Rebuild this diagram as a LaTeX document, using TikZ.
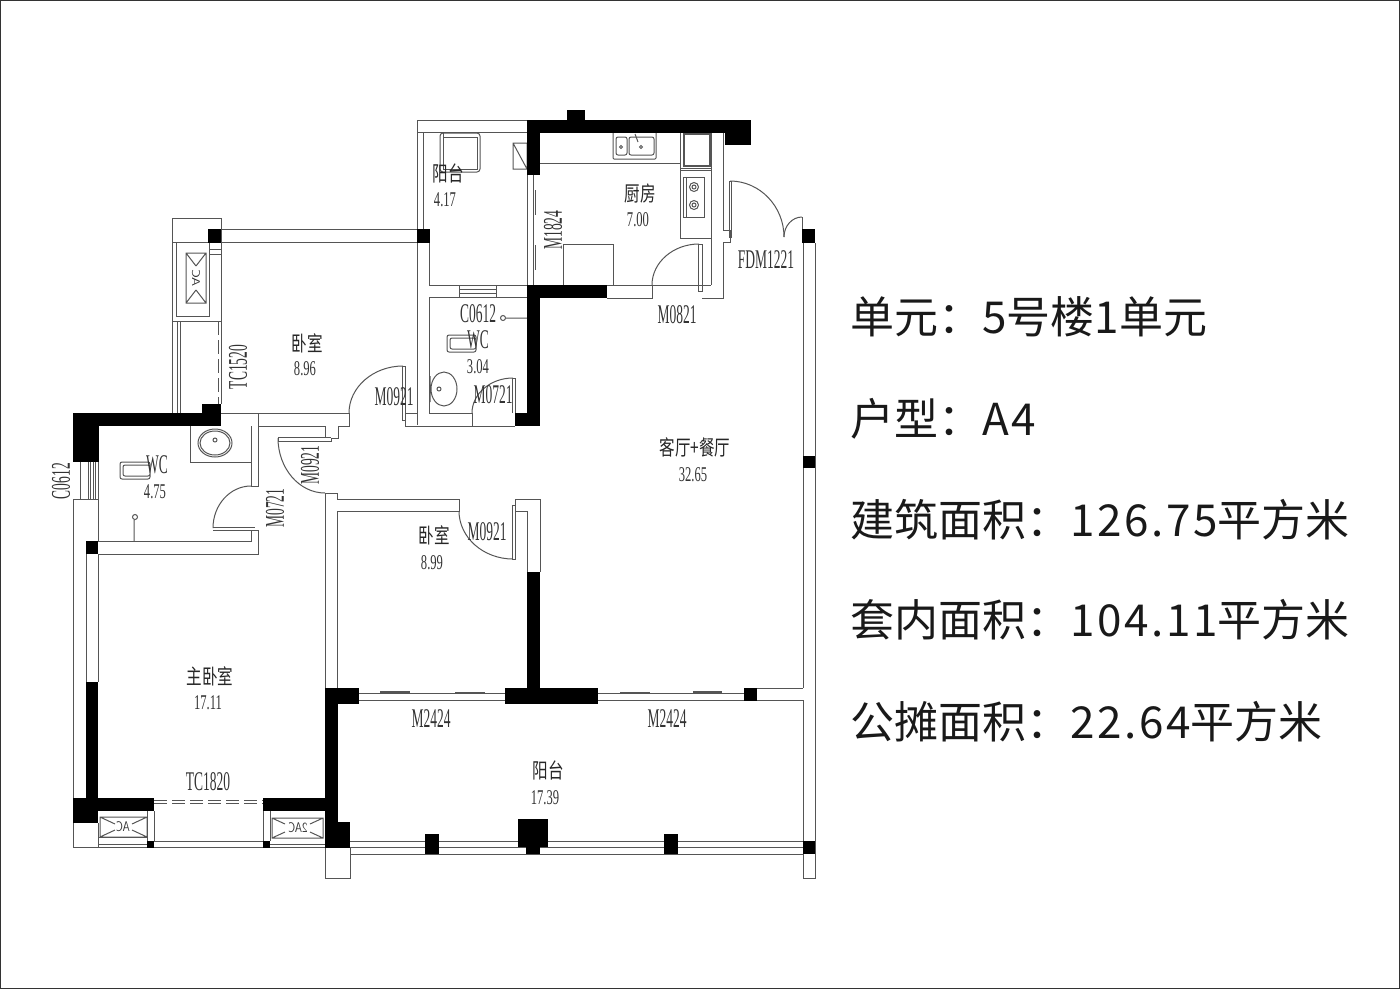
\documentclass[tikz,border=0pt]{standalone}
\usepackage{fontspec}
\setmainfont{Liberation Serif}
\newfontfamily\cjk{Noto Sans CJK SC}
\newfontfamily\cjknum[LetterSpace=6]{Noto Sans CJK SC}
\usepackage{tikz}
\definecolor{linegray}{HTML}{555555}
\tikzstyle{cadline}=[draw=linegray,line width=1pt]
\tikzstyle{pillar}=[fill=black,draw=none]
\tikzstyle{doorlabel}=[inner sep=0pt,xscale=.5,transform shape,font=\fontsize{27}{27}\selectfont,text=black!80]
\tikzstyle{doorvert}=[inner sep=0pt,rotate=90,xscale=.5,transform shape,font=\fontsize{27}{27}\selectfont,text=black!80]
\tikzstyle{arealabel}=[inner sep=0pt,xscale=.6,transform shape,font=\fontsize{21}{21}\selectfont,text=black!80]
\tikzstyle{roomlabel}=[inner sep=0pt,xscale=.74,transform shape,font=\cjk\fontsize{21}{21}\selectfont,text=black!85]
\tikzstyle{aclabel}=[inner sep=0pt,xscale=-.8,transform shape,font=\sffamily\fontsize{14}{14}\selectfont,text=black!80]
\tikzstyle{infoline}=[inner sep=0pt,anchor=base west,font=\cjk\fontsize{44}{44}\selectfont,text=black!90]
\newcommand{\doorarc}[4]{\draw[cadline] (#1,#2) .. controls (#1,{#2+.55*(#4-#2)}) and ({#3+.55*(#1-#3)},#4) .. (#3,#4);}
\begin{document}
\begin{tikzpicture}[x=1pt,y=-1pt]
\useasboundingbox (0,0) rectangle (1400,989);
\draw[black!80,line width=1.5pt] (.7,.7) rectangle (1399.3,988.3);

% north rooms
\draw[cadline] (417,120) -- (527,120) (417,132) -- (527,132) (417,120) -- (417,425);
\draw[cadline] (423,132) -- (423,229) (429,243) -- (429,285) -- (527,285) (429,297) -- (527,297);
\draw[cadline] (429,297) -- (429,413) -- (472,413) -- (472,426) (405,426) -- (515,426);
\draw[cadline] (405,366) -- (405,426) (405,413) -- (417,413) (402,366) -- (402,420) -- (405,420) (402,366) -- (405,366);
\foreach \wy in {285,289,293,297} \draw[cadline] (459,\wy) -- (496,\wy);
\draw[cadline] (459,285) -- (459,297) (496,285) -- (496,297);
\draw[cadline] (527,175) -- (527,285) (533,175) -- (533,285) (535,190) -- (535,215) (535,245) -- (535,270);
\draw[cadline] (540,163) -- (680,163) (680,133) -- (680,238) -- (711,238) (711,133) -- (711,285);
\draw[cadline] (723,133) -- (723,230) -- (730,230) -- (730,242) -- (723,242) -- (723,298) -- (702,298);
\draw[cadline] (533,285) -- (711,285) (607,298) -- (652,298) -- (652,285);
\draw[cadline] (698,244) rectangle (702,291);
\draw[cadline] (563,244) rectangle (613,285);
\draw[cadline] (729,181) rectangle (731,237) (802,217) -- (802,237);
\doorarc{652}{285}{699}{244}
\doorarc{784}{237}{730}{181}
\doorarc{784}{237}{802}{217}
\doorarc{472}{413}{513}{378}
\doorarc{349}{413}{403}{366}
\draw[cadline] (512,378) -- (512,413) (515,378) -- (515,413) (512,378) -- (515,378);

% kitchen and bath fittings
\draw[cadline,rounded corners=1pt] (613,133) -- (613,159) -- (656,159) -- (656,133);
\draw[cadline,rounded corners=2pt] (616,137) rectangle (627,155) (629,137) rectangle (654,155);
\draw[cadline] (621,147) circle (1.5pt) (641,147) circle (1.5pt) (635,134) -- (638,142);
\draw[cadline,line width=1.3pt] (684,134) rectangle (710,166);
\draw[cadline] (680,168) -- (711,168) (680,170) -- (711,170);
\draw[cadline] (683,177) rectangle (704,217) (686,177) -- (686,217);
\draw[cadline] (694,187) circle (4.5pt) (694,187) circle (2pt) (694,205) circle (4.5pt) (694,205) circle (2pt);
\draw[cadline,rounded corners=3pt] (440,133) -- (440,172) -- (480,172) -- (480,133) -- cycle;
\draw[cadline] (443,133) -- (443,169) -- (477,169) -- (477,137) -- (443,137);
\draw[cadline] (513,143) rectangle (527,169) (513,143) -- (527,169);
\draw[cadline,rounded corners=2pt] (447,335) rectangle (476,352) (450,338) rectangle (476,349);
\draw[cadline] (444,389) ellipse (13pt and 17pt) (439,389) ellipse (2pt and 2pt) (430,376) -- (430,402);
\draw[cadline] (503,318) circle (2.5pt) (506,318) -- (527,318);

% west rooms
\draw[cadline] (172,218) rectangle (221,242) (221,242) -- (221,404) (172,242) -- (172,413);
\draw[cadline] (221,229) -- (417,229) (221,242) -- (417,242) (172,242) -- (208,242);
\draw[cadline] (176,242) -- (176,316) -- (209,316) -- (209,243) (172,321) -- (221,321);
\draw[cadline] (177,321) -- (177,413) (180,321) -- (180,413);
\draw[cadline,dash pattern=on 14pt off 5pt] (218,321) -- (218,404);
\draw[cadline] (209,249) -- (221,249) (209,254) -- (221,254);
\draw[cadline] (186,253) rectangle (206,303) (186,253) -- (196,266) (206,253) -- (196,266) (186,303) -- (196,290) (206,303) -- (196,290);
\node[aclabel,rotate=90] (acnorth) at (196,278) {AC};
\draw[cadline] (221,413) -- (349,413) -- (349,426) -- (338,426) -- (338,438) -- (331,438) -- (331,441) -- (278,441) -- (278,437) -- (331,437);
\draw[cadline] (258,426) -- (325,426) -- (325,437);
\draw[cadline] (325,493) -- (337,493) -- (337,499) -- (459,499) (337,511) -- (459,511) -- (459,499);
\draw[cadline] (325,493) -- (325,688) (337,511) -- (337,688);
\draw[cadline] (512,505) rectangle (515,559);
\draw[cadline] (515,511) -- (515,499) -- (540,499) -- (540,572) (515,511) -- (527,511) -- (527,572);
\doorarc{278}{438}{325}{493}
\doorarc{459}{511}{513}{559}
\doorarc{213}{528}{251}{486}
\draw[cadline] (258,413) -- (258,486) -- (251,486) -- (251,426) (190,426) -- (190,462) -- (251,462);
\draw[cadline] (213,527) -- (255,527) (213,530) -- (255,530) -- (258,530) -- (258,554) -- (98,554) (251,530) -- (251,541) -- (98,541);
\draw[cadline] (98,462) -- (98,541) (73,499) -- (98,499) (73,499) -- (73,847) -- (325,847);
\draw[cadline] (80,462) -- (80,499);
\foreach \wx in {88,90.5,93,95.5} \draw[cadline] (\wx,462) -- (\wx,499);
\draw[cadline] (215,443) ellipse (17pt and 14pt) (215,443) ellipse (15pt and 12pt) (215,440) circle (2pt);
\draw[cadline,rounded corners=2pt] (120,462) rectangle (150,479) (123,465) rectangle (150,476);
\draw[cadline] (135,517) circle (2.5pt) (134,520) -- (134,541);
\draw[cadline] (86,554) -- (86,682) (98,554) -- (98,682);

% south rooms
\draw[cadline] (98,823) -- (98,847) (98,837) -- (147,837) (98,844) -- (147,844);
\draw[cadline] (147,811) -- (147,841) (154,811) -- (154,841) -- (263,841) -- (263,811) (270,811) -- (270,841) (270,844) -- (325,844);
\draw[cadline,dash pattern=on 13pt off 5pt] (154,800) -- (263,800) (154,803) -- (263,803);
\draw[cadline] (100,817) rectangle (147,837) (100,817) -- (115,824) (100,837) -- (115,830) (147,817) -- (132,824) (147,837) -- (132,830);
\draw[cadline] (272,818) rectangle (323,838) (272,818) -- (285,824) (272,838) -- (285,832) (323,818) -- (310,824) (323,838) -- (310,832);
\node[aclabel] (acwest) at (123,827) {AC};
\node[aclabel] (aceast) at (298,828) {2AC};
\draw[cadline] (325,848) -- (325,878) -- (350,878) -- (350,848);
\draw[cadline] (350,841) -- (803,841) (350,847) -- (803,847) (350,854) -- (803,854);
\draw[cadline] (359,693) -- (505,693) (359,700) -- (505,700) (598,693) -- (744,693) (598,700) -- (803,700) (757,688) -- (803,688);
\draw[cadline,line width=1.4pt] (380,692) -- (410,692) (455,693) -- (485,693) (620,693) -- (650,693) (693,692) -- (722,692);
\draw[cadline] (803,243) -- (803,688) (803,700) -- (803,878) -- (815,878) -- (815,243);

% black walls and pillars
\foreach \xa/\ya/\xb/\yb in {527/120/751/133,725/133/751/145,567/110/585/120,527/133/540/175,417/229/430/243,
  527/285/607/298,527/298/540/426,515/413/527/426,802/229/815/243,803/456/815/468,803/841/815/854,
  208/229/221/243,73/413/221/426,202/404/221/413,73/426/99/462,86/541/98/554,
  527/572/540/688,505/688/598/704,744/688/757/701,325/688/359/704,325/704/338/822,325/822/350/848,
  73/798/154/811,263/798/338/811,73/811/98/823,86/682/98/798,147/841/154/848,263/841/270/848,
  425/834/439/854,664/834/678/854,518/819/548/847,526/847/540/854}
  \fill[pillar] (\xa,\ya) rectangle (\xb,\yb);

% room names and areas
\node[roomlabel] (nbalcony) at (448,173) {阳台};
\node[arealabel] (abalcony) at (445,200) {4.17};
\node[roomlabel] (nkitchen) at (640,193) {厨房};
\node[arealabel] (akitchen) at (638,220) {7.00};
\node[roomlabel] (nbedb) at (307,343) {卧室};
\node[arealabel] (abedb) at (305,369) {8.96};
\node[arealabel] (awcb) at (478,367) {3.04};
\node[roomlabel] (nliving) at (695,447) {客厅+餐厅};
\node[arealabel] (aliving) at (693,475) {32.65};
\node[arealabel] (awca) at (155,492) {4.75};
\node[roomlabel] (nbedc) at (434,535) {卧室};
\node[arealabel] (abedc) at (432,563) {8.99};
\node[roomlabel] (nmaster) at (210,676) {主卧室};
\node[arealabel] (amaster) at (208,703) {17.11};
\node[roomlabel] (nterrace) at (548,770) {阳台};
\node[arealabel] (aterrace) at (545,798) {17.39};
\node[doorlabel] (lwcb) at (478,340) {WC};
\node[doorlabel] (lwca) at (157,465) {WC};

% door and window codes
\node[doorvert] (m1824) at (553,230) {M1824};
\node[doorlabel] (fdm) at (766,260) {FDM1221};
\node[doorlabel] (c0612b) at (478,314) {C0612};
\node[doorlabel] (m0821) at (677,315) {M0821};
\node[doorlabel] (m0721b) at (493,395) {M0721};
\node[doorvert] (tc1520) at (238,367) {TC1520};
\node[doorlabel] (m0921a) at (394,397) {M0921};
\node[doorvert] (m0921b) at (310,465) {M0921};
\node[doorvert] (m0721a) at (275,508) {M0721};
\node[doorvert] (c0612a) at (61,481) {C0612};
\node[doorlabel] (m0921c) at (487,532) {M0921};
\node[doorlabel] (tc1820) at (208,782) {TC1820};
\node[doorlabel] (m2424a) at (431,719) {M2424};
\node[doorlabel] (m2424b) at (667,719) {M2424};

% summary on the right
\node[infoline] (unit) at (850,333) {单元：{\cjknum 5}号楼{\cjknum 1}单元};
\node[infoline] (type) at (850,435) {户型：{\cjknum A4}};
\node[infoline] (built) at (850,536) {建筑面积：{\cjknum 126.75}平方米};
\node[infoline] (inner) at (850,636) {套内面积：{\cjknum 104.11}平方米};
\node[infoline] (shared) at (850,738) {公摊面积：{\cjknum 22.64}平方米};
\end{tikzpicture}
\end{document}
